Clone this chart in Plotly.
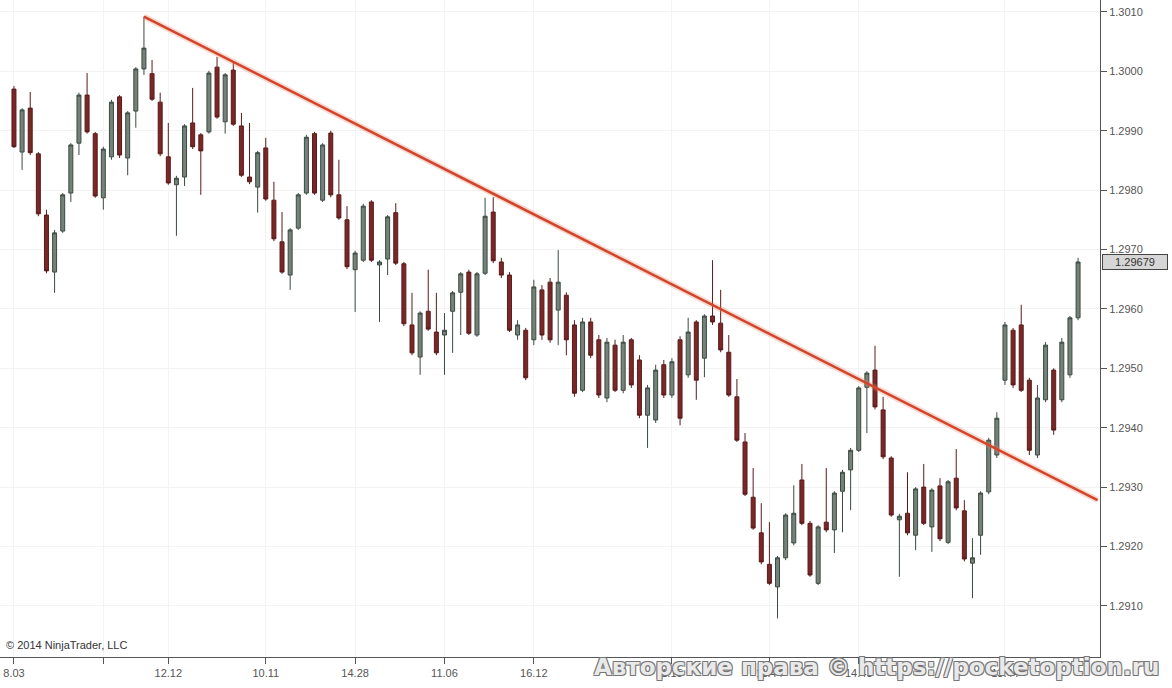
import plotly.graph_objects as go

open_ = [1.29970,1.29864,1.29938,1.29861,1.29758,1.29662,1.29731,1.29795,1.29879,1.29960,
1.29895,1.29787,1.29856,1.29957,1.29854,1.29933,1.30004,1.29996,1.29948,1.29856,
1.29809,1.29822,1.29913,1.29893,1.29898,1.30007,1.29915,1.30002,1.29908,1.29822,
1.29805,1.29871,1.29783,1.29713,1.29657,1.29736,1.29795,1.29895,1.29783,1.29896,
1.29792,1.29750,1.29666,1.29682,1.29780,1.29674,1.29684,1.29762,1.29676,1.29573,
1.29519,1.29596,1.29561,1.29556,1.29596,1.29628,1.29662,1.29556,1.29660,1.29763,
1.29679,1.29657,1.29556,1.29564,1.29548,1.29632,1.29645,1.29598,1.29623,1.29573,
1.29463,1.29578,1.29548,1.29450,1.29539,1.29463,1.29548,1.29514,1.29421,1.29413,
1.29506,1.29455,1.29548,1.29489,1.29578,1.29517,1.29588,1.29576,1.29527,1.29452,
1.29376,1.29283,1.29223,1.29170,1.29132,1.29181,1.29206,1.29312,1.29239,1.29138,
1.29241,1.29228,1.29293,1.29329,1.29362,1.29468,1.29497,1.29430,1.29349,1.29245,
1.29256,1.29219,1.29300,1.29233,1.29302,1.29207,1.29315,1.29260,1.29172,1.29219,
1.29292,1.29354,1.29480,1.29564,1.29573,1.29480,1.29354,1.29447,1.29497,1.29447,
1.29489,1.29585]

high = [1.29975,1.29938,1.29965,1.29864,1.29767,1.29733,1.29795,1.29879,1.29964,1.29997,
1.29898,1.29873,1.29952,1.29960,1.29933,1.30007,1.30092,1.30019,1.29964,1.29913,
1.29824,1.29911,1.29972,1.29896,1.30001,1.30024,1.29997,1.30016,1.29930,1.29913,
1.29866,1.29888,1.29814,1.29763,1.29736,1.29795,1.29893,1.29898,1.29879,1.29900,
1.29851,1.29773,1.29698,1.29777,1.29783,1.29682,1.29758,1.29778,1.29679,1.29627,
1.29596,1.29666,1.29627,1.29593,1.29630,1.29662,1.29666,1.29662,1.29787,1.29788,
1.29686,1.29662,1.29581,1.29568,1.29649,1.29640,1.29652,1.29699,1.29628,1.29581,
1.29585,1.29585,1.29556,1.29551,1.29548,1.29556,1.29551,1.29522,1.29472,1.29506,
1.29514,1.29517,1.29554,1.29585,1.29581,1.29591,1.29682,1.29632,1.29556,1.29482,
1.29391,1.29332,1.29273,1.29241,1.29184,1.29256,1.29303,1.29339,1.29243,1.29236,
1.29332,1.29293,1.29329,1.29366,1.29470,1.29495,1.29538,1.29452,1.29352,1.29255,
1.29325,1.29300,1.29339,1.29298,1.29315,1.29312,1.29364,1.29278,1.29214,1.29293,
1.29383,1.29426,1.29578,1.29568,1.29607,1.29484,1.29472,1.29544,1.29500,1.29551,
1.29588,1.29686]

low = [1.29871,1.29834,1.29859,1.29756,1.29660,1.29627,1.29728,1.29780,1.29859,1.29895,
1.29787,1.29767,1.29851,1.29854,1.29825,1.29905,1.29994,1.29950,1.29857,1.29809,
1.29723,1.29807,1.29869,1.29792,1.29895,1.29920,1.29895,1.29908,1.29822,1.29810,
1.29762,1.29782,1.29714,1.29659,1.29632,1.29733,1.29792,1.29792,1.29780,1.29788,
1.29750,1.29667,1.29595,1.29679,1.29679,1.29578,1.29657,1.29674,1.29571,1.29522,
1.29489,1.29563,1.29522,1.29489,1.29526,1.29556,1.29556,1.29553,1.29657,1.29677,
1.29652,1.29561,1.29548,1.29480,1.29539,1.29548,1.29543,1.29539,1.29522,1.29452,
1.29460,1.29517,1.29450,1.29443,1.29460,1.29458,1.29467,1.29416,1.29366,1.29408,
1.29450,1.29450,1.29404,1.29484,1.29447,1.29485,1.29573,1.29527,1.29452,1.29376,
1.29285,1.29228,1.29170,1.29135,1.29079,1.29177,1.29202,1.29236,1.29149,1.29135,
1.29224,1.29189,1.29224,1.29261,1.29359,1.29391,1.29431,1.29347,1.29250,1.29149,
1.29219,1.29194,1.29236,1.29191,1.29209,1.29204,1.29261,1.29175,1.29113,1.29186,
1.29288,1.29349,1.29472,1.29467,1.29460,1.29354,1.29349,1.29443,1.29388,1.29443,
1.29484,1.29581]

close = [1.29873,1.29935,1.29863,1.29760,1.29664,1.29728,1.29792,1.29876,1.29960,1.29898,
1.29790,1.29869,1.29948,1.29859,1.29930,1.30004,1.30039,1.29953,1.29861,1.29812,
1.29820,1.29908,1.29873,1.29866,1.29997,1.29923,1.29994,1.29911,1.29825,1.29814,
1.29863,1.29785,1.29718,1.29662,1.29733,1.29792,1.29889,1.29795,1.29876,1.29792,
1.29753,1.29671,1.29694,1.29773,1.29682,1.29679,1.29755,1.29677,1.29575,1.29526,
1.29593,1.29566,1.29526,1.29564,1.29627,1.29659,1.29559,1.29659,1.29756,1.29681,
1.29657,1.29564,1.29573,1.29484,1.29637,1.29556,1.29548,1.29645,1.29548,1.29458,
1.29578,1.29522,1.29455,1.29544,1.29463,1.29544,1.29472,1.29421,1.29467,1.29497,
1.29455,1.29511,1.29416,1.29561,1.29480,1.29588,1.29578,1.29531,1.29455,1.29379,
1.29288,1.29231,1.29174,1.29138,1.29181,1.29253,1.29256,1.29239,1.29152,1.29233,
1.29228,1.29290,1.29325,1.29362,1.29467,1.29492,1.29435,1.29351,1.29253,1.29251,
1.29223,1.29297,1.29239,1.29295,1.29213,1.29309,1.29265,1.29179,1.29181,1.29290,
1.29379,1.29416,1.29573,1.29472,1.29463,1.29362,1.29450,1.29539,1.29396,1.29544,
1.29585,1.29679]

bar_index = list(range(len(close)))

x_tick_index = [0, 11, 19, 31, 42, 53, 64, 81, 93, 104, 122]
x_tick_labels = ["8.03", "", "12.12", "10.11", "14.28", "11.06", "16.12", "1.15", "11.44", "14.43", "13.44"]

y_tick_values = [1.3010, 1.3000, 1.2990, 1.2980, 1.2970, 1.2960, 1.2950, 1.2940, 1.2930, 1.2920, 1.2910]

trend_x = [16, 133.4]
trend_y = [1.30092, 1.29278]

fig = go.Figure()
fig.add_trace(go.Candlestick(
    x=bar_index, open=open_, high=high, low=low, close=close,
    increasing=dict(line=dict(color="#3b4a40", width=1), fillcolor="#75827a"),
    decreasing=dict(line=dict(color="#5a1a1a", width=1), fillcolor="#7a2727"),
    whiskerwidth=0, hoverinfo="skip", showlegend=False,
))
fig.add_trace(go.Scatter(
    x=trend_x, y=trend_y, mode="lines",
    line=dict(color="rgba(235,130,100,0.30)", width=6),
    hoverinfo="skip", showlegend=False,
))
fig.add_trace(go.Scatter(
    x=trend_x, y=trend_y, mode="lines",
    line=dict(color="#d2452c", width=2.5),
    hoverinfo="skip", showlegend=False,
))

fig.update_layout(
    width=1172, height=688,
    margin=dict(l=0, r=72, t=0, b=31, autoexpand=False),
    paper_bgcolor="white", plot_bgcolor="white",
    font=dict(family="Liberation Sans, Arial, sans-serif", size=11, color="#444"),
    showlegend=False, hovermode=False,
)
fig.update_xaxes(
    range=[-1.72, 133.7], rangeslider=dict(visible=False), automargin=False,
    tickmode="array", tickvals=x_tick_index, ticktext=x_tick_labels,
    showline=True, linecolor="#555", linewidth=1, mirror=False,
    ticks="outside", ticklen=6, tickcolor="#555",
    showgrid=True, gridcolor="#f3f3f3", zeroline=False,
    tickfont=dict(size=11, color="#555"),
)
fig.update_yaxes(
    side="right", range=[1.29014, 1.30120], automargin=False,
    tickmode="array", tickvals=y_tick_values, tickformat=".4f",
    showline=True, linecolor="#555", linewidth=1,
    ticks="outside", ticklen=6, tickcolor="#555",
    showgrid=True, gridcolor="#f3f3f3", zeroline=False,
    tickfont=dict(size=11, color="#555"),
)

fig.add_annotation(
    xref="paper", yref="y", x=1.0, y=close[-1], xanchor="left", yanchor="middle",
    text=f"{close[-1]:.5f}", showarrow=False, xshift=2,
    bgcolor="#d6d6d6", bordercolor="#444", borderwidth=1, borderpad=1,
    font=dict(size=11, color="#333"), width=62,
)
fig.add_annotation(
    xref="paper", yref="paper", x=0.004, y=0.018, xanchor="left", yanchor="middle",
    text="© 2014 NinjaTrader, LLC", showarrow=False,
    font=dict(size=11, color="#333"),
)
fig.add_annotation(
    xref="paper", yref="paper", x=592 / 1100, y=-0.015, xanchor="left", yanchor="middle",
    text="<b>Авторские права © https://pocketoption.ru</b>", showarrow=False,
    font=dict(size=23, color="#e9e9e9", family="DejaVu Sans, Verdana, sans-serif",
              shadow="1px 1px 0 #777, -1px -1px 0 #777, 1px -1px 0 #777, -1px 1px 0 #777"),
)

fig.write_html("out.html", config={"displayModeBar": False},
               post_script="document.body.style.margin='0';")
